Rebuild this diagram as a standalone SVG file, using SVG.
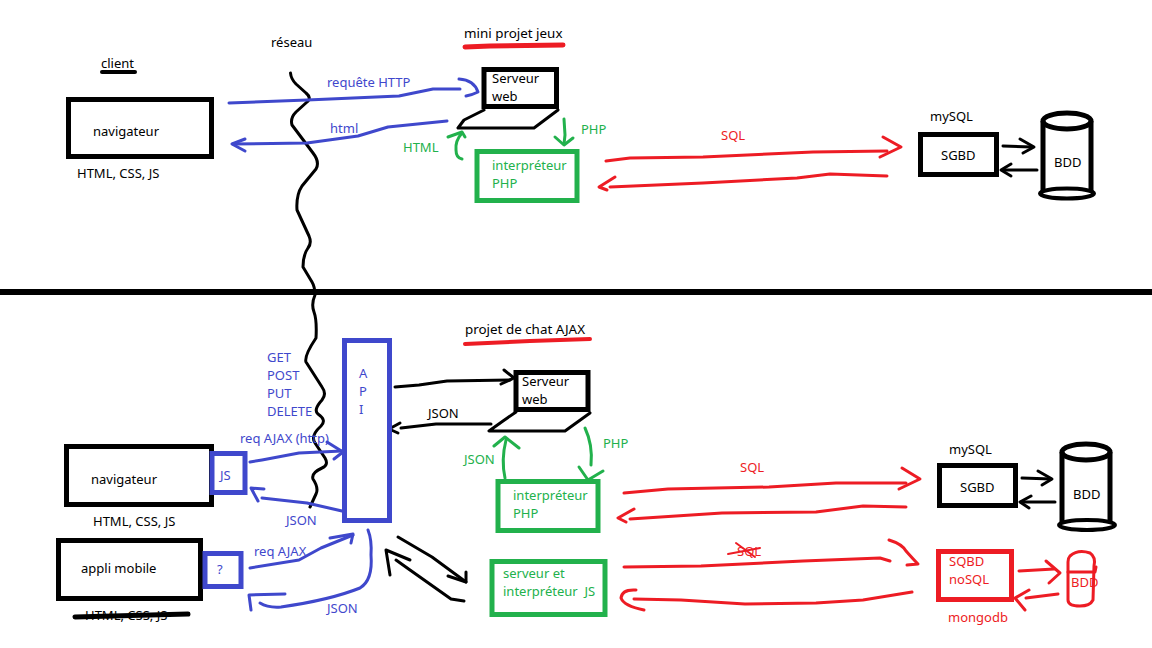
<svg xmlns="http://www.w3.org/2000/svg" width="1152" height="648" viewBox="0 0 1152 648">
<style>
text{font-family:"Noto Sans","Open Sans","Liberation Sans",sans-serif;font-size:13px;fill:#000}
.b text,text.b{fill:#3f48cc}
.g text,text.g{fill:#22b14c}
.r text,text.r{fill:#ed1c24}
text.t{font-size:13.4px}
rect,ellipse,polyline,path{fill:none;stroke-linejoin:round;stroke-linecap:round}
.k{stroke:#000}.bs{stroke:#3f48cc}.gs{stroke:#22b14c}.rs{stroke:#ed1c24}
.box{stroke-width:5;stroke-linejoin:miter;stroke-linecap:butt}
.w3{stroke-width:3}.w4{stroke-width:4}.w5{stroke-width:5}
</style>
<rect width="1152" height="648" style="fill:#fff"/>
<g id="connectors">
<path class="k w3" d="M290.500 73Q291 79 296 84L306 93Q312 98 307 102L296 112Q290 118 292 125L313 153Q320 162 316 169L302 186Q296 195 297 210L309 236Q312 243 308 248Q303 255 303 267L312 282Q315 287 315 295Q311 304 314 312Q317 320 316 338Q304 356 306 362L322 387Q327 394 322 400Q313 410 318 414Q327 420 321 426Q310 436 315 443L325 458Q329 465 322 468Q311 473 313 479Q319 488 316 494L310 507"/>
<polyline class="k" stroke-width="6" points="0,292 1152,292" style="stroke-linecap:butt"/>
<g id="top-http" class="b">
<polyline class="bs w3" points="229,103 307,100 399,96 433,89 460,89"/>
<path class="bs w3" d="M459 79Q474 80 478 92Q472 95 466 96"/>
<polyline class="bs w3" points="447,121 388,127 358,136 307,143 233,144"/>
<polyline class="bs w3" points="245,139 232,144 245,151"/>
<text x="327" y="87">requête HTTP</text><text x="330" y="133">html</text>
</g>
<g id="top-php" class="g">
<polyline class="gs w3" points="564,119 565,135 564,144"/><polyline class="gs w3" points="555,137 564,145 573,138"/>
<path class="gs w3" d="M462 159Q456 158 456 150Q455 141 462 133"/><polyline class="gs w3" points="448,137 462,132 465,137"/>
<text x="581" y="134">PHP</text><text x="403" y="152">HTML</text>
</g>
<g id="top-sql" class="r">
<polyline class="rs w3" points="606,161 630,158 703,157 813,152 887,151"/><polyline class="rs w3" points="883,137 901,147 880,157"/>
<polyline class="rs w3" points="887,176 830,174 797,178 703,183 610,187"/><polyline class="rs w3" points="615,177 599,187 607,190"/>
<text x="721" y="140">SQL</text>
</g>
<g id="top-db-arrows">
<polyline class="k w3" points="1003,146 1032,147"/><polyline class="k w3" points="1020,139 1034,147 1023,153"/>
<polyline class="k w3" points="1037,170 1003,170"/><polyline class="k w3" points="1011,164 1001,170 1011,176"/>
</g>
<g id="bottom-api-server">
<polyline class="k w3" points="395,387 419,385 447,381 510,380"/><polyline class="k w3" points="504,370 514,378 501,384"/>
<polyline class="k w3" points="491,424 436,424 401,428"/><polyline class="k w3" points="400,423 389,429 398,433"/>
<text x="428" y="418">JSON</text>
</g>
<g id="bottom-php" class="g">
<path class="gs w3" d="M585 428Q593 445 591 465"/><polyline class="gs w3" points="579,467 588,480 603,471"/>
<path class="gs w3" d="M505 478Q501 460 506 440"/><polyline class="gs w3" points="494,446 505,437 519,448"/>
<text x="603" y="448">PHP</text><text x="464" y="464">JSON</text>
</g>
<g id="bottom-ajax" class="b">
<polyline class="bs w3" points="250,462 262,460 299,453 342,451"/><polyline class="bs w3" points="327,442 343,452 334,459"/>
<polyline class="bs w3" points="342,511 307,503 262,498"/><polyline class="bs w3" points="264,489 251,488 258,501"/>
<polyline class="bs w3" points="250,568 299,560 321,548 353,535"/><polyline class="bs w3" points="330,538 353,534 351,543"/>
<path class="bs w3" d="M368 530Q372 540 371 555Q373 580 360 588Q330 600 281 607Q268 608 260 603"/><polyline class="bs w3" points="285,594 249,595 251,610"/>
<text x="267" y="362">GET</text><text x="267" y="380">POST</text><text x="267" y="398">PUT</text><text x="267" y="416">DELETE</text>
<text x="240" y="443">req AJAX (http)</text><text x="286" y="525">JSON</text><text x="254" y="556">req AJAX</text><text x="327" y="613">JSON</text>
</g>
<g id="bottom-js">
<polyline class="k w3" points="398,537 432,557 466,582"/><polyline class="k w3" points="448,576 466,582 466,572"/>
<polyline class="k w3" points="464,601 451,599 410,570 396,560"/><polyline class="k w3" points="390,575 386,550 410,560"/>
</g>
<g id="bottom-sql" class="r">
<polyline class="rs w3" points="624,493 668,489 769,487 836,483 906,483"/><polyline class="rs w3" points="902,468 920,479 899,489"/>
<polyline class="rs w3" points="906,507 863,506 816,512 722,513 630,519"/><polyline class="rs w3" points="634,509 618,518 626,522"/>
<text x="740" y="472">SQL</text>
<polyline class="rs w3" points="624,567 701,566 803,561 880,558 890,561"/><path class="rs w3" d="M889 540Q902 544 906 551Q914 560 918 564L907 565"/>
<text x="737" y="556">SQL</text>
<polyline class="rs" stroke-width="2" points="728,554 760,548"/><polyline class="rs" stroke-width="2" points="736,543 755,557"/>
<polyline class="rs w3" points="912,592 863,600 816,603 745,604 681,600 634,599"/><path class="rs w3" d="M636 590Q622 589 621 598Q624 606 644 610"/>
</g>
<g id="bottom-db-arrows">
<polyline class="k w3" points="1022,478 1051,479"/><polyline class="k w3" points="1038,471 1052,479 1042,485"/>
<polyline class="k w3" points="1055,502 1021,502"/><polyline class="k w3" points="1031,496 1020,502 1029,508"/>
<polyline class="rs w3" points="1019,571 1054,569"/><polyline class="rs w3" points="1046,561 1060,573 1049,583"/>
<polyline class="rs w3" points="1058,594 1026,598"/><polyline class="rs w3" points="1029,590 1015,598 1025,610"/>
</g>
</g>
<g id="labels-top">
<text x="101" y="68">client</text><polyline class="k w4" points="102,72 135,72"/>
<text x="271" y="47">réseau</text>
<text class="t" x="464" y="38">mini projet jeux</text><polyline class="rs w5" points="465,47 490,46 563,45"/>
<text x="930" y="121">mySQL</text>
</g>
<g id="labels-bottom">
<text class="t" x="465" y="334">projet de chat AJAX</text><polyline class="rs w4" points="465,344 530,341 590,339"/>
<text x="949" y="454">mySQL</text>
</g>
<g id="navigateur-top"><rect class="k box" x="68.500" y="99.500" width="143" height="57"/><text x="93" y="136">navigateur</text><text x="77" y="178">HTML, CSS, JS</text></g>
<g id="serveur-top"><rect class="k box" x="484" y="69.500" width="72.500" height="37"/><polyline class="k w3" points="484,110 464,120 458,128 534,128 558,110"/><text x="492" y="83">Serveur</text><text x="492" y="101">web</text></g>
<g id="interpreteur-top" class="g"><rect class="gs box" x="477" y="151.500" width="100" height="49"/><text x="492" y="170">interpréteur</text><text x="492" y="188">PHP</text></g>
<g id="sgbd-top"><rect class="k box" x="920.500" y="134.500" width="76" height="40"/><text x="941" y="160">SGBD</text></g>
<g id="bdd-top"><ellipse class="k box" cx="1067" cy="121" rx="24" ry="8"/><path class="k w5" d="M1043 121V191M1091 121V191" style="stroke-linecap:butt"/><ellipse class="k w4" cx="1067" cy="193.500" rx="27" ry="5"/><text x="1054" y="167">BDD</text></g>
<g id="api" class="b"><rect class="bs box" x="344.500" y="340.500" width="45" height="180"/><text x="359" y="378">A</text><text x="359" y="396">P</text><text x="359" y="414">I</text></g>
<g id="navigateur-bottom"><rect class="k box" x="66.500" y="446.500" width="145" height="58"/><text x="91" y="484">navigateur</text><text x="93" y="526">HTML, CSS, JS</text></g>
<g id="js" class="b"><rect class="bs box" x="212" y="453.500" width="33" height="39"/><text x="220" y="480">JS</text></g>
<g id="appli"><rect class="k box" x="58.500" y="540.500" width="142" height="58"/><text x="81" y="573">appli mobile</text><text x="85" y="620">HTML, CSS, JS</text><polyline class="k w5" points="75,617 188,614"/></g>
<g id="q" class="b"><rect class="bs box" x="205" y="553.500" width="36" height="33"/><text x="217" y="574">?</text></g>
<g id="serveur-bottom"><rect class="k box" x="516" y="372.500" width="72" height="37"/><polyline class="k w3" points="516,412 503,421 489,431 565,431 590,413"/><text x="522" y="386">Serveur</text><text x="522" y="404">web</text></g>
<g id="interpreteur-bottom" class="g"><rect class="gs box" x="498" y="481.500" width="100" height="49"/><text x="513" y="500">interpréteur</text><text x="513" y="518">PHP</text></g>
<g id="serveur-js" class="g"><rect class="gs box" x="492" y="561.500" width="113" height="53"/><text x="503" y="578">serveur et</text><text x="503" y="596">interpréteur&#160; JS</text></g>
<g id="sgbd-bottom"><rect class="k box" x="939.500" y="465.500" width="76" height="40"/><text x="960" y="492">SGBD</text></g>
<g id="bdd-bottom"><ellipse class="k box" cx="1086" cy="452" rx="24" ry="8"/><path class="k w5" d="M1062 452V522M1110 452V522" style="stroke-linecap:butt"/><ellipse class="k w4" cx="1087" cy="525" rx="28" ry="5"/><text x="1073" y="499">BDD</text></g>
<g id="sqbd" class="r"><rect class="rs box" x="938.500" y="551.500" width="73" height="48"/><text x="949" y="566">SQBD</text><text x="949" y="584">noSQL</text><text x="948" y="622">mongodb</text></g>
<g id="bdd-red" class="r"><path class="rs w3" d="M1070 556Q1078 549 1090 553Q1096 557 1094 566L1093 600Q1090 606 1080 606Q1068 606 1068 600V562Q1068 558 1070 556"/><polyline class="rs w3" points="1068,572 1095,572 1096,567"/><text x="1071" y="587">BDD</text></g>
</svg>
